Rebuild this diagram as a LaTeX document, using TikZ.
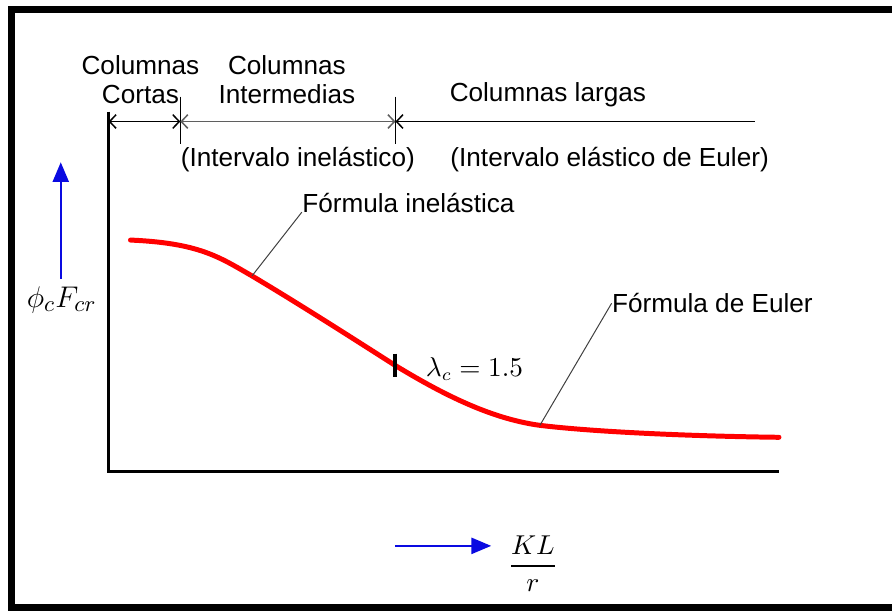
\documentclass[tikz,border=0pt]{standalone}
\usepackage{amsmath,amssymb}
\usepackage{fontspec}
\setmainfont{Liberation Sans}
\usetikzlibrary{arrows, arrows.meta, positioning}
\definecolor{azul}{RGB}{10,10,225}
\definecolor{gris}{RGB}{95,95,95}
\newcommand{\drawe}{\draw[line width=1.2pt]}
\newcommand{\drawd}{\draw[line width=0.6pt]}

\begin{document}
\begin{tikzpicture}[x=0.4pt, y=-0.4pt, >={Straight Barb[length=2.6pt,width=5.5pt]},
  every node/.style={font=\fontsize{10.5}{11.6}\selectfont}]
\fill[white] (0,0) rectangle (895,612);
% Marco
\draw[line width=2.8pt] (895,9.5) -- (11.5,9.5) -- (11.5,609.5) -- (895,609.5);

% Ejes
\coordinate (O) at (109,473);
\coordinate (ytop) at (109,112);
\coordinate (xend) at (782,473);
\drawe (ytop) -- (O) -- (xend);

% Intervalos de columnas
\coordinate (t1a) at (181,97);
\coordinate (t1b) at (181,145);
\coordinate (t2a) at (397,97);
\coordinate (t2b) at (397,145);
\coordinate (d0) at (109,122);
\coordinate (d1) at (181,122);
\coordinate (d2) at (397,122);
\coordinate (d3) at (758,122);
\drawd (t1a) -- (t1b);
\drawd (t2a) -- (t2b);
\drawd[<->] (d0) -- (d1);
\drawd[<->, gris] (d1) -- (d2);
\drawd[<-] (d2) -- (d3);

\node[align=center] (corta) at (141,80) {Columnas\\Cortas};
\node[align=center] (inter) at (288,80) {Columnas\\Intermedias};
\node (larga) at (550,95) {Columnas largas};
\node (inel) at (299,160) {(Intervalo inelástico)};
\node (elas) at (612,160) {(Intervalo elástico de Euler)};

% Curva de resistencia
\draw[red, line width=2pt, line cap=round] (131,241)
  .. controls (200,244) and (220,258) .. (253,277)
  .. controls (300,305) and (350,337) .. (397,367)
  .. controls (440,393) and (490,420) .. (542,427)
  .. controls (600,434) and (700,438) .. (782,439);

% Leyendas de la curva
\coordinate (p1) at (253,277);
\coordinate (p2) at (542,427);
\node[anchor=base west, inner sep=0pt] (f1) at (303,213) {Fórmula inelástica};
\node[anchor=base west, inner sep=0pt] (f2) at (614,314) {Fórmula de Euler};
\draw[line width=0.4pt, black!75] (p1) -- (f1.base west);
\draw[line width=0.4pt, black!75] (p2) -- (f2.west);

% Limite lambda_c
\coordinate (la) at (397,355);
\coordinate (lb) at (397,378);
\draw[line width=1.6pt] (la) -- (lb);
\node[anchor=base west, inner sep=0pt] (lam) at (427,378) {$\lambda_c = 1.5$};

% Ejes: etiquetas y flechas azules
\coordinate (ya) at (61,280);
\coordinate (yb) at (61,163);
\draw[azul, line width=0.8pt, -triangle 45] (ya) -- (yb);
\node[font=\fontsize{12.5}{15}\selectfont] (fi) at (62,301) {$\phi_c F_{cr}$};

\coordinate (xa) at (397,548);
\coordinate (xb) at (493,548);
\draw[azul, line width=0.8pt, -triangle 45] (xa) -- (xb);
\node[anchor=base, font=\fontsize{11}{13}\selectfont] (kl) at (535,575) {$\dfrac{KL}{r}$};

\end{tikzpicture}
\end{document}
